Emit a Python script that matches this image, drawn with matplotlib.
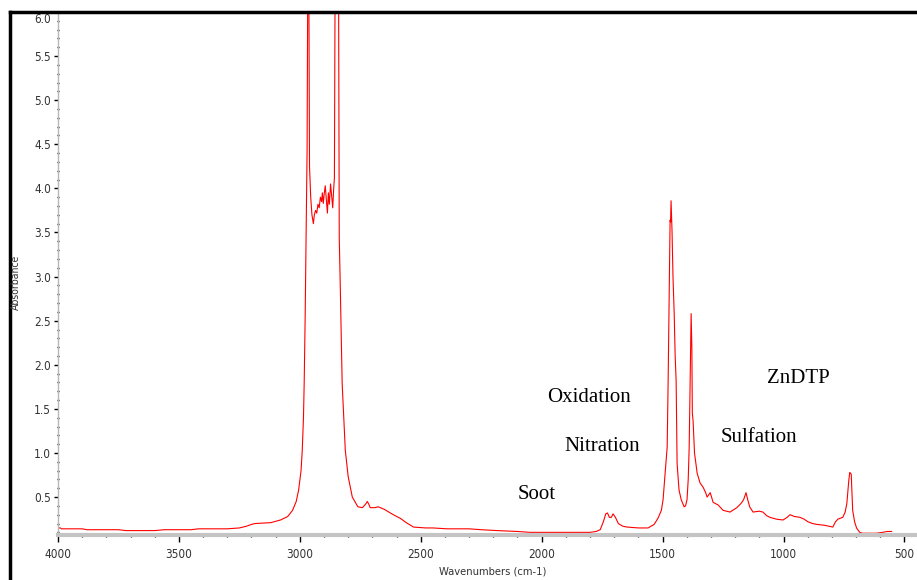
import numpy as np
import matplotlib
matplotlib.use("Agg")
import matplotlib.pyplot as plt
import matplotlib.transforms as mtransforms
from matplotlib.lines import Line2D
from matplotlib.ticker import MultipleLocator
from matplotlib import font_manager

# FTIR spectrum of used oil
wavenumber = [4000, 3990, 3985, 3900, 3880, 3750, 3720, 3600, 3560, 3450, 3420, 3300,
              3250, 3220, 3200, 3185, 3120, 3080, 3050, 3030, 3015, 3005, 2995, 2990,
              2985, 2982, 2978, 2974, 2970, 2967, 2963, 2961, 2960, 2955, 2950, 2944,
              2940, 2935, 2930, 2925, 2920, 2915, 2910, 2907, 2903, 2900, 2895, 2890,
              2886, 2882, 2878, 2873, 2868, 2864, 2860, 2857, 2854, 2840, 2837, 2833,
              2825, 2812, 2800, 2783, 2760, 2741, 2728, 2721, 2715, 2709, 2690, 2676,
              2650, 2626, 2600, 2585, 2560, 2530, 2480, 2450, 2391, 2300, 2250, 2184,
              2100, 2048, 1950, 1850, 1800, 1775, 1758, 1745, 1735, 1728, 1720, 1712,
              1705, 1695, 1683, 1665, 1647, 1600, 1560, 1535, 1519, 1505, 1498, 1490,
              1481, 1477, 1472, 1469, 1467, 1465, 1463, 1461, 1457, 1452, 1448, 1444,
              1440, 1432, 1423, 1411, 1405, 1399, 1394, 1390, 1386, 1382, 1379, 1377,
              1374, 1368, 1357, 1345, 1332, 1322, 1316, 1303, 1291, 1270, 1250, 1221,
              1193, 1175, 1165, 1155, 1148, 1140, 1126, 1100, 1085, 1070, 1056, 1030,
              1002, 985, 973, 955, 932, 915, 899, 880, 862, 830, 796, 785,
              775, 755, 745, 738, 733, 730, 726, 720, 716, 714, 706, 698,
              685, 673, 640, 616, 591, 570, 553]
absorbance = [0.15, 0.15, 0.14, 0.14, 0.13, 0.13, 0.12, 0.12, 0.13, 0.13, 0.14, 0.14,
              0.15, 0.17, 0.19, 0.20, 0.21, 0.24, 0.28, 0.35, 0.45, 0.58, 0.80, 1.03,
              1.40, 1.79, 2.54, 3.52, 4.43, 6.5, 6.5, 4.9, 4.25, 3.9, 3.7, 3.6,
              3.7, 3.75, 3.72, 3.82, 3.78, 3.9, 3.85, 3.95, 3.83, 3.92, 4.03, 3.85,
              3.72, 3.95, 3.82, 4.05, 3.9, 3.78, 4.0, 4.12, 6.5, 6.5, 3.44, 2.92,
              1.79, 1.03, 0.73, 0.50, 0.39, 0.38, 0.42, 0.45, 0.42, 0.38, 0.38, 0.39,
              0.36, 0.32, 0.28, 0.26, 0.21, 0.16, 0.15, 0.15, 0.14, 0.14, 0.13, 0.12,
              0.11, 0.10, 0.10, 0.10, 0.10, 0.11, 0.13, 0.22, 0.31, 0.32, 0.27, 0.27,
              0.31, 0.27, 0.20, 0.17, 0.16, 0.15, 0.15, 0.19, 0.26, 0.35, 0.47, 0.75,
              1.07, 1.82, 2.9, 3.64, 3.62, 3.86, 3.70, 3.52, 3.0, 2.58, 2.1, 1.82,
              0.88, 0.58, 0.47, 0.39, 0.40, 0.47, 0.7, 1.07, 1.8, 2.58, 2.2, 1.45,
              1.37, 1.0, 0.77, 0.66, 0.61, 0.55, 0.50, 0.55, 0.44, 0.41, 0.35, 0.33,
              0.38, 0.43, 0.47, 0.55, 0.47, 0.39, 0.33, 0.34, 0.33, 0.29, 0.27, 0.25,
              0.24, 0.27, 0.30, 0.28, 0.27, 0.25, 0.22, 0.20, 0.19, 0.18, 0.16, 0.22,
              0.25, 0.27, 0.33, 0.43, 0.6, 0.69, 0.78, 0.76, 0.50, 0.35, 0.22, 0.15,
              0.10, 0.09, 0.09, 0.09, 0.10, 0.11, 0.11]

band_labels = ["Soot", "Oxidation", "Nitration", "Sulfation", "ZnDTP"]
band_label_wn = [2019, 1804, 1750, 1102, 940]
band_label_abs = [0.53, 1.63, 1.07, 1.17, 1.85]

# narrow sans for the axis text, if one is around
names = {f.name for f in font_manager.fontManager.ttflist}
if "Liberation Sans Narrow" in names:
    tick_font = dict(family="Liberation Sans Narrow")
else:
    tick_font = dict(family="DejaVu Sans", stretch="condensed")

W, H = 917, 580
fig = plt.figure(figsize=(W / 100, H / 100), dpi=100)
ax = fig.add_axes([58 / W, 45 / H, (W - 58) / W, (H - 45 - 12) / H])

ax.plot(wavenumber, absorbance, color="#ff0000", lw=0.8)
ax.set_xlim(4000, 448)
ax.set_ylim(0.07, 6.0)

ax.xaxis.set_minor_locator(MultipleLocator(100))
ax.yaxis.set_minor_locator(MultipleLocator(0.1))
ax.set_yticks([0.5, 1.0, 1.5, 2.0, 2.5, 3.0, 3.5, 4.0, 4.5, 5.0, 5.5, 6.0])
ax.set_xticks([4000, 3500, 3000, 2500, 2000, 1500, 1000, 500])

for s in ["top", "right"]:
    ax.spines[s].set_visible(False)
ax.spines["bottom"].set_color("#c4c4c4")
ax.spines["bottom"].set_linewidth(3)
ax.spines["left"].set_color("#b8b8b8")
ax.spines["left"].set_linewidth(1)

ax.tick_params(axis="x", which="major", direction="out", length=5, width=1,
               color="black", pad=4, labelsize=8.5, labelcolor="#333333")
ax.tick_params(axis="x", which="minor", direction="inout", length=3, width=1,
               color="black")
ax.tick_params(axis="y", which="major", direction="out", length=3, width=1,
               color="black", pad=2, labelsize=8.5, labelcolor="#333333")
ax.tick_params(axis="y", which="minor", direction="inout", length=1.5, width=1,
               color="black")
for lab in ax.get_xticklabels() + ax.get_yticklabels():
    lab.set(**tick_font)

# top label sits a bit lower so it clears the frame
top_lab = ax.get_yticklabels()[-1]
top_lab.set_transform(top_lab.get_transform() +
                      mtransforms.ScaledTranslation(0, -6 / 100, fig.dpi_scale_trans))

for txt, xw, ya in zip(band_labels, band_label_wn, band_label_abs):
    ax.text(xw, ya, txt, ha="center", va="center", fontsize=15,
            family=["Liberation Serif", "DejaVu Serif"], color="black")

fig.text(16 / W, 1 - 282 / H, "Absorbance", rotation=90, ha="center", va="center",
         fontsize=7.5, color="#333333", **tick_font)
fig.text(493 / W, 1 - 572 / H, "Wavenumbers (cm-1)", ha="center", va="center",
         fontsize=8, color="#333333", **tick_font)

# outer black frame (left and top)
fig.add_artist(Line2D([10 / W, 10 / W], [0, 1 - 12 / H], transform=fig.transFigure,
                      color="black", lw=2.5))
fig.add_artist(Line2D([10 / W, 1], [1 - 12 / H, 1 - 12 / H], transform=fig.transFigure,
                      color="black", lw=2.5))

plt.savefig("out.png", dpi=100)
